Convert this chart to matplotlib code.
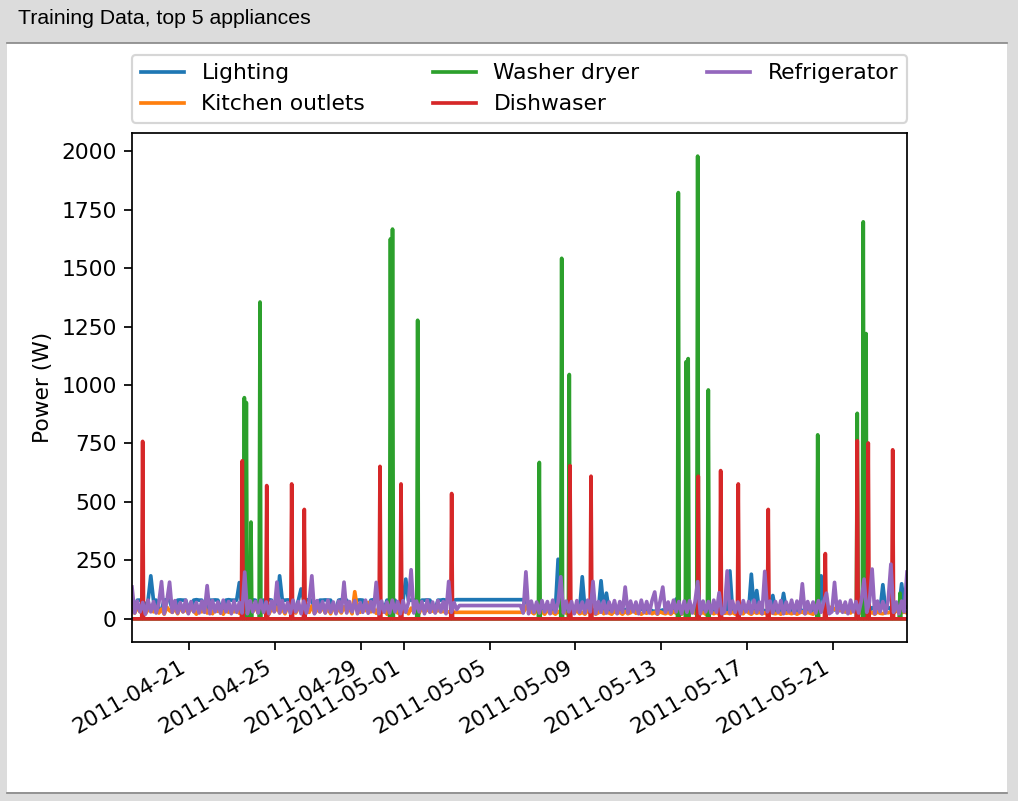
import numpy as np
import pandas as pd
import matplotlib
matplotlib.use("Agg")
import matplotlib.pyplot as plt
import matplotlib.dates as mdates
from matplotlib.patches import Rectangle
from matplotlib.lines import Line2D

# sample times, hours after 2011-04-18 00:00 (data gap between the two blocks)
t0 = pd.Timestamp("2011-04-18")
hours1 = np.arange(8.3, 375, 3)
hours2 = np.arange(439.6, 875, 3)

labels = ["Lighting", "Kitchen outlets", "Washer dryer", "Dishwaser", "Refrigerator"]

light_w1 = [40, 42, 80, 80, 82, 45, 80, 184,
            80, 80, 38, 40, 80, 82, 80, 42,
            40, 80, 81, 80, 80, 44, 40, 80,
            82, 80, 80, 40, 42, 80, 80, 81,
            80, 45, 40, 80, 82, 80, 80, 80,
            155, 40, 42, 80, 80, 81, 80, 44,
            40, 80, 80, 82, 80, 42, 40, 184,
            80, 80, 81, 80, 42, 40, 80, 128,
            80, 82, 80, 80, 43, 40, 80, 80,
            81, 80, 80, 42, 40, 80, 82, 80,
            80, 44, 40, 80, 80, 81, 80, 42,
            40, 80, 82, 80, 80, 43, 40, 80,
            80, 81, 80, 42, 40, 80, 170, 80,
            80, 82, 40, 42, 80, 80, 81, 80,
            44, 40, 80, 80, 82, 80, 80, 81,
            80, 82, 82]
light_w2 = [82, 82, 82, 80, 45, 50, 38, 48,
            40, 52, 35, 45, 55, 38, 42, 255,
            40, 48, 35, 50, 42, 38, 52, 36,
            180, 40, 35, 48, 30, 45, 38, 163,
            40, 110, 35, 42, 30, 38, 45, 32,
            40, 35, 30, 42, 36, 30, 45, 38,
            32, 40, 35, 30, 42, 34, 38, 30,
            36, 42, 30, 85, 38, 32, 40, 35,
            30, 38, 42, 32, 36, 30, 40, 34,
            38, 30, 42, 35, 32, 40, 36, 205,
            35, 40, 32, 38, 30, 42, 35, 191,
            40, 121, 35, 42, 32, 38, 45, 100,
            36, 40, 32, 109, 38, 42, 30, 40,
            35, 45, 32, 40, 38, 30, 42, 36,
            40, 184, 35, 45, 32, 50, 38, 42,
            35, 48, 30, 42, 38, 45, 32, 40,
            36, 50, 42, 35, 48, 38, 52, 40,
            146, 42, 50, 38, 55, 40, 48, 150,
            45, 52]

kitchen_w1 = [35, 25, 50, 30, 45, 22, 40, 55,
              30, 48, 25, 42, 20, 50, 35, 28,
              45, 22, 52, 30, 40, 25, 48, 33,
              20, 45, 30, 55, 25, 38, 22, 50,
              32, 45, 20, 42, 28, 52, 30, 40,
              24, 50, 35, 22, 46, 30, 55, 25,
              40, 28, 48, 20, 44, 32, 50, 26,
              42, 22, 52, 30, 38, 25, 48, 34,
              20, 46, 28, 55, 24, 40, 30, 50,
              26, 44, 22, 48, 32, 40, 25, 52,
              30, 45, 22, 116, 40, 28, 50, 35,
              70, 30, 45, 24, 50, 28, 42, 20,
              48, 32, 40, 25, 52, 30, 44, 22,
              46, 30, 38, 24, 50, 28, 42, 30,
              35, 28, 40, 30, 32, 28, 30, 29,
              28, 28, 28]
kitchen_w2 = [28, 28, 28, 45, 70, 30, 22, 35,
              25, 30, 20, 38, 24, 28, 20, 32,
              22, 35, 25, 20, 30, 24, 38, 22,
              28, 20, 35, 24, 30, 20, 26, 40,
              22, 30, 25, 20, 34, 24, 28, 20,
              32, 22, 26, 45, 24, 30, 20, 28,
              24, 35, 22, 28, 20, 30, 25, 22,
              28, 20, 32, 24, 26, 20, 30, 22,
              26, 48, 24, 30, 22, 28, 20, 26,
              30, 22, 28, 20, 34, 24, 26, 22,
              28, 20, 30, 24, 22, 40, 26, 20,
              30, 24, 28, 22, 26, 20, 32, 24,
              22, 28, 20, 30, 24, 26, 22, 28,
              20, 26, 30, 22, 28, 24, 20, 30,
              24, 50, 35, 45, 30, 52, 40, 48,
              36, 55, 30, 42, 25, 45, 28, 22,
              30, 24, 26, 22, 28, 20, 30, 24,
              22, 28, 26, 30, 24, 35, 28, 26,
              30, 25]

fridge_w1 = [136, 25, 76, 30, 70, 20, 80, 30,
             74, 25, 68, 159, 22, 76, 157, 28,
             78, 25, 70, 30, 80, 22, 74, 30,
             70, 25, 76, 28, 142, 22, 78, 30,
             72, 24, 80, 30, 74, 22, 76, 28,
             70, 25, 200, 22, 78, 30, 74, 25,
             80, 28, 72, 22, 76, 30, 157, 25,
             78, 28, 70, 24, 80, 30, 74, 22,
             76, 25, 72, 184, 22, 78, 30, 74,
             25, 80, 28, 72, 22, 76, 30, 157,
             25, 74, 30, 78, 22, 70, 28, 80,
             24, 74, 30, 156, 22, 76, 28, 72,
             25, 80, 30, 74, 22, 78, 28, 70,
             210, 25, 76, 30, 74, 22, 80, 28,
             72, 25, 78, 30, 74, 22, 160, 28,
             70, 40, 57]
fridge_w2 = [57, 57, 25, 201, 22, 76, 28, 72,
             25, 78, 30, 74, 22, 80, 28, 70,
             180, 25, 76, 30, 74, 22, 78, 28,
             72, 25, 80, 30, 160, 22, 74, 28,
             76, 25, 72, 30, 78, 22, 74, 28,
             136, 25, 76, 30, 72, 22, 80, 28,
             74, 25, 78, 115, 22, 76, 136, 28,
             72, 25, 80, 30, 74, 22, 76, 28,
             78, 25, 72, 159, 22, 76, 30, 74,
             25, 80, 28, 112, 22, 30, 205, 25,
             76, 28, 72, 22, 78, 30, 74, 25,
             80, 28, 72, 22, 203, 30, 76, 25,
             74, 28, 78, 22, 72, 30, 80, 25,
             76, 28, 150, 22, 74, 30, 72, 25,
             78, 28, 74, 110, 22, 30, 156, 25,
             76, 28, 72, 22, 80, 30, 74, 25,
             78, 170, 28, 72, 213, 22, 76, 30,
             74, 25, 80, 234, 28, 72, 22, 76,
             30, 200]

# washer dryer and dishwasher: zero except for short runs
washer_peak_h = [133.9, 136.1, 141.3, 151.4, 297.2, 299.5, 327.6, 463.6, 488.6,
                 497.1, 619.0, 627.8, 630.0, 640.6, 652.5, 774.8, 819.0, 825.7,
                 828.8, 866.8]
washer_peak_w = [946, 925, 414, 1355, 1625, 1667, 1277, 669, 1542,
                 1045, 1823, 1100, 1113, 1979, 979, 787, 879, 1698,
                 1220, 110]
dish_peak_h = [20.2, 131.6, 158.9, 186.8, 200.9, 285.5, 309.0, 365.6, 497.9,
               521.4, 641.3, 666.3, 686.0, 719.5, 783.3, 819.0, 831.3, 858.6]
dish_peak_w = [759, 676, 570, 577, 468, 652, 577, 536, 655,
               610, 610, 634, 577, 468, 279, 762, 752, 723]


def spikes(peak_h, peak_w, start, end):
    h, w = [start], [0]
    for p, v in zip(peak_h, peak_w):
        h += [p - 1, p, p + 1]
        w += [0, v, 0]
    h.append(end)
    w.append(0)
    return np.array(h), np.array(w)


def to_dates(h):
    return t0 + pd.to_timedelta(np.asarray(h), unit="h")


hours = np.concatenate([hours1, hours2])
start, end = hours.min(), hours.max()
wash_h, wash_w = spikes(washer_peak_h, washer_peak_w, start, end)
dish_h, dish_w = spikes(dish_peak_h, dish_peak_w, start, end)

series = [
    (hours, light_w1 + light_w2),
    (hours, kitchen_w1 + kitchen_w2),
    (wash_h, wash_w),
    (dish_h, dish_w),
    (hours, fridge_w1 + fridge_w2),
]

W, H = 1018, 801
DPI = 156.25
fig = plt.figure(figsize=(W / DPI, H / DPI), dpi=DPI)
fig.patch.set_facecolor("#dcdcdc")
fig.patches.append(Rectangle((7 / W, 1 - 792 / H), 1000 / W, 749 / H,
                             transform=fig.transFigure, facecolor="white",
                             edgecolor="none", zorder=-2))
for yy in (42.5, 792.5):
    fig.add_artist(Line2D([7 / W, 1007 / W], [1 - yy / H] * 2,
                          color="#8a8a8a", lw=0.8, transform=fig.transFigure))
fig.text(18 / W, 1 - 19 / H, "Training Data, top 5 appliances",
         family="Liberation Sans", fontsize=9.8, ha="left", va="center")

ax = fig.add_axes([132 / W, 1 - 642 / H, 775 / W, 509 / H])
for (h, w), lab in zip(series, labels):
    ax.plot(to_dates(h), w, label=lab, lw=1.7)

ax.set_xlim(to_dates([start])[0], to_dates([end])[0])
ax.xaxis.set_major_locator(mdates.DayLocator(bymonthday=range(1, 32, 4)))
ax.xaxis.set_major_formatter(mdates.DateFormatter("%Y-%m-%d"))
for lbl in ax.get_xticklabels():
    lbl.set_rotation(30)
    lbl.set_ha("right")
ax.set_ylabel("Power (W)")
ax.legend(loc="lower left", bbox_to_anchor=(0, 1.02, 1, 0.1), mode="expand",
          ncol=3, borderaxespad=0)

fig.savefig("out.png", dpi=DPI, facecolor=fig.get_facecolor())
